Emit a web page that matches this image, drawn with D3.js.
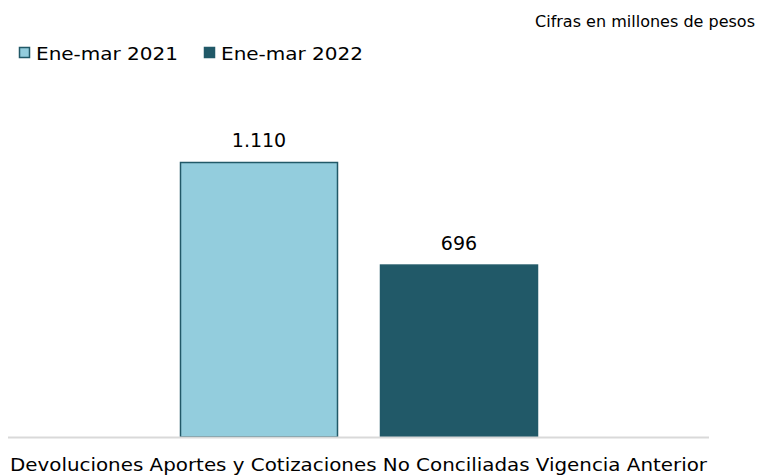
<!DOCTYPE html>
<html>
<head>
<meta charset="utf-8">
<script src="https://cdn.jsdelivr.net/npm/d3@7"></script>
<style>
  body { margin: 0; background: #fff; }
  svg { display: block; font-family: "DejaVu Sans", Verdana, sans-serif; }
</style>
</head>
<body>
<svg id="chart"></svg>
<script>
var width = 757;
var height = 475;

// data
var category = "Devoluciones Aportes y Cotizaciones No Conciliadas Vigencia Anterior";
var series = ["Ene-mar 2021", "Ene-mar 2022"];
var values = [1110, 696];
var valueLabels = ["1.110", "696"];
var fills = ["#93cddd", "#215968"];

var svg = d3.select("#chart")
    .attr("width", width)
    .attr("height", height);

var baseY = 437;

let x = d3.scaleBand().domain(series).range([160, 558]).paddingInner(0.21).paddingOuter(0.1);
let y = d3.scaleLinear().domain([0, 1110]).range([baseY, 162]);

// note top right
svg.append("text")
    .attr("x", 755)
    .attr("y", 27)
    .attr("text-anchor", "end")
    .attr("font-size", 15.5)
    .attr("textLength", 220)
    .attr("lengthAdjust", "spacingAndGlyphs")
    .attr("fill", "#000")
    .text("Cifras en millones de pesos");

// legend
let legend = svg.append("g");
let legX = [19, 204];
series.forEach((s, i) => {
    legend.append("rect")
        .attr("x", legX[i] + 0.5)
        .attr("y", 47.5)
        .attr("width", 10)
        .attr("height", 10)
        .attr("fill", fills[i])
        .attr("stroke", "#215968")
        .attr("stroke-width", 1.5);
    legend.append("text")
        .attr("x", legX[i] + 17)
        .attr("y", 60)
        .attr("font-size", 18.5)
        .attr("textLength", 142)
        .attr("lengthAdjust", "spacingAndGlyphs")
        .attr("fill", "#000")
        .text(s);
});

// bars
svg.append("g").selectAll("rect")
    .data(values)
    .join("rect")
    .attr("x", (d, i) => x(series[i]) + 0.5)
    .attr("y", d => y(d) + 0.5)
    .attr("width", x.bandwidth() - 1)
    .attr("height", d => baseY - y(d) - 0.5)
    .attr("fill", (d, i) => fills[i])
    .attr("stroke", "#215968")
    .attr("stroke-width", 1.5);

// value labels
svg.append("g").selectAll("text")
    .data(values)
    .join("text")
    .attr("x", (d, i) => x(series[i]) + x.bandwidth() / 2)
    .attr("y", d => y(d) - 15)
    .attr("text-anchor", "middle")
    .attr("font-size", 19)
    .attr("fill", "#000")
    .text((d, i) => valueLabels[i]);

// axis line
svg.append("line")
    .attr("x1", 8).attr("x2", 709)
    .attr("y1", baseY + 0.5).attr("y2", baseY + 0.5)
    .attr("stroke", "#d9d9d9")
    .attr("stroke-width", 2);

// category label
svg.append("text")
    .attr("x", 10)
    .attr("y", 471)
    .attr("font-size", 18)
    .attr("textLength", 697)
    .attr("lengthAdjust", "spacingAndGlyphs")
    .attr("fill", "#000")
    .text(category);
</script>
</body>
</html>
